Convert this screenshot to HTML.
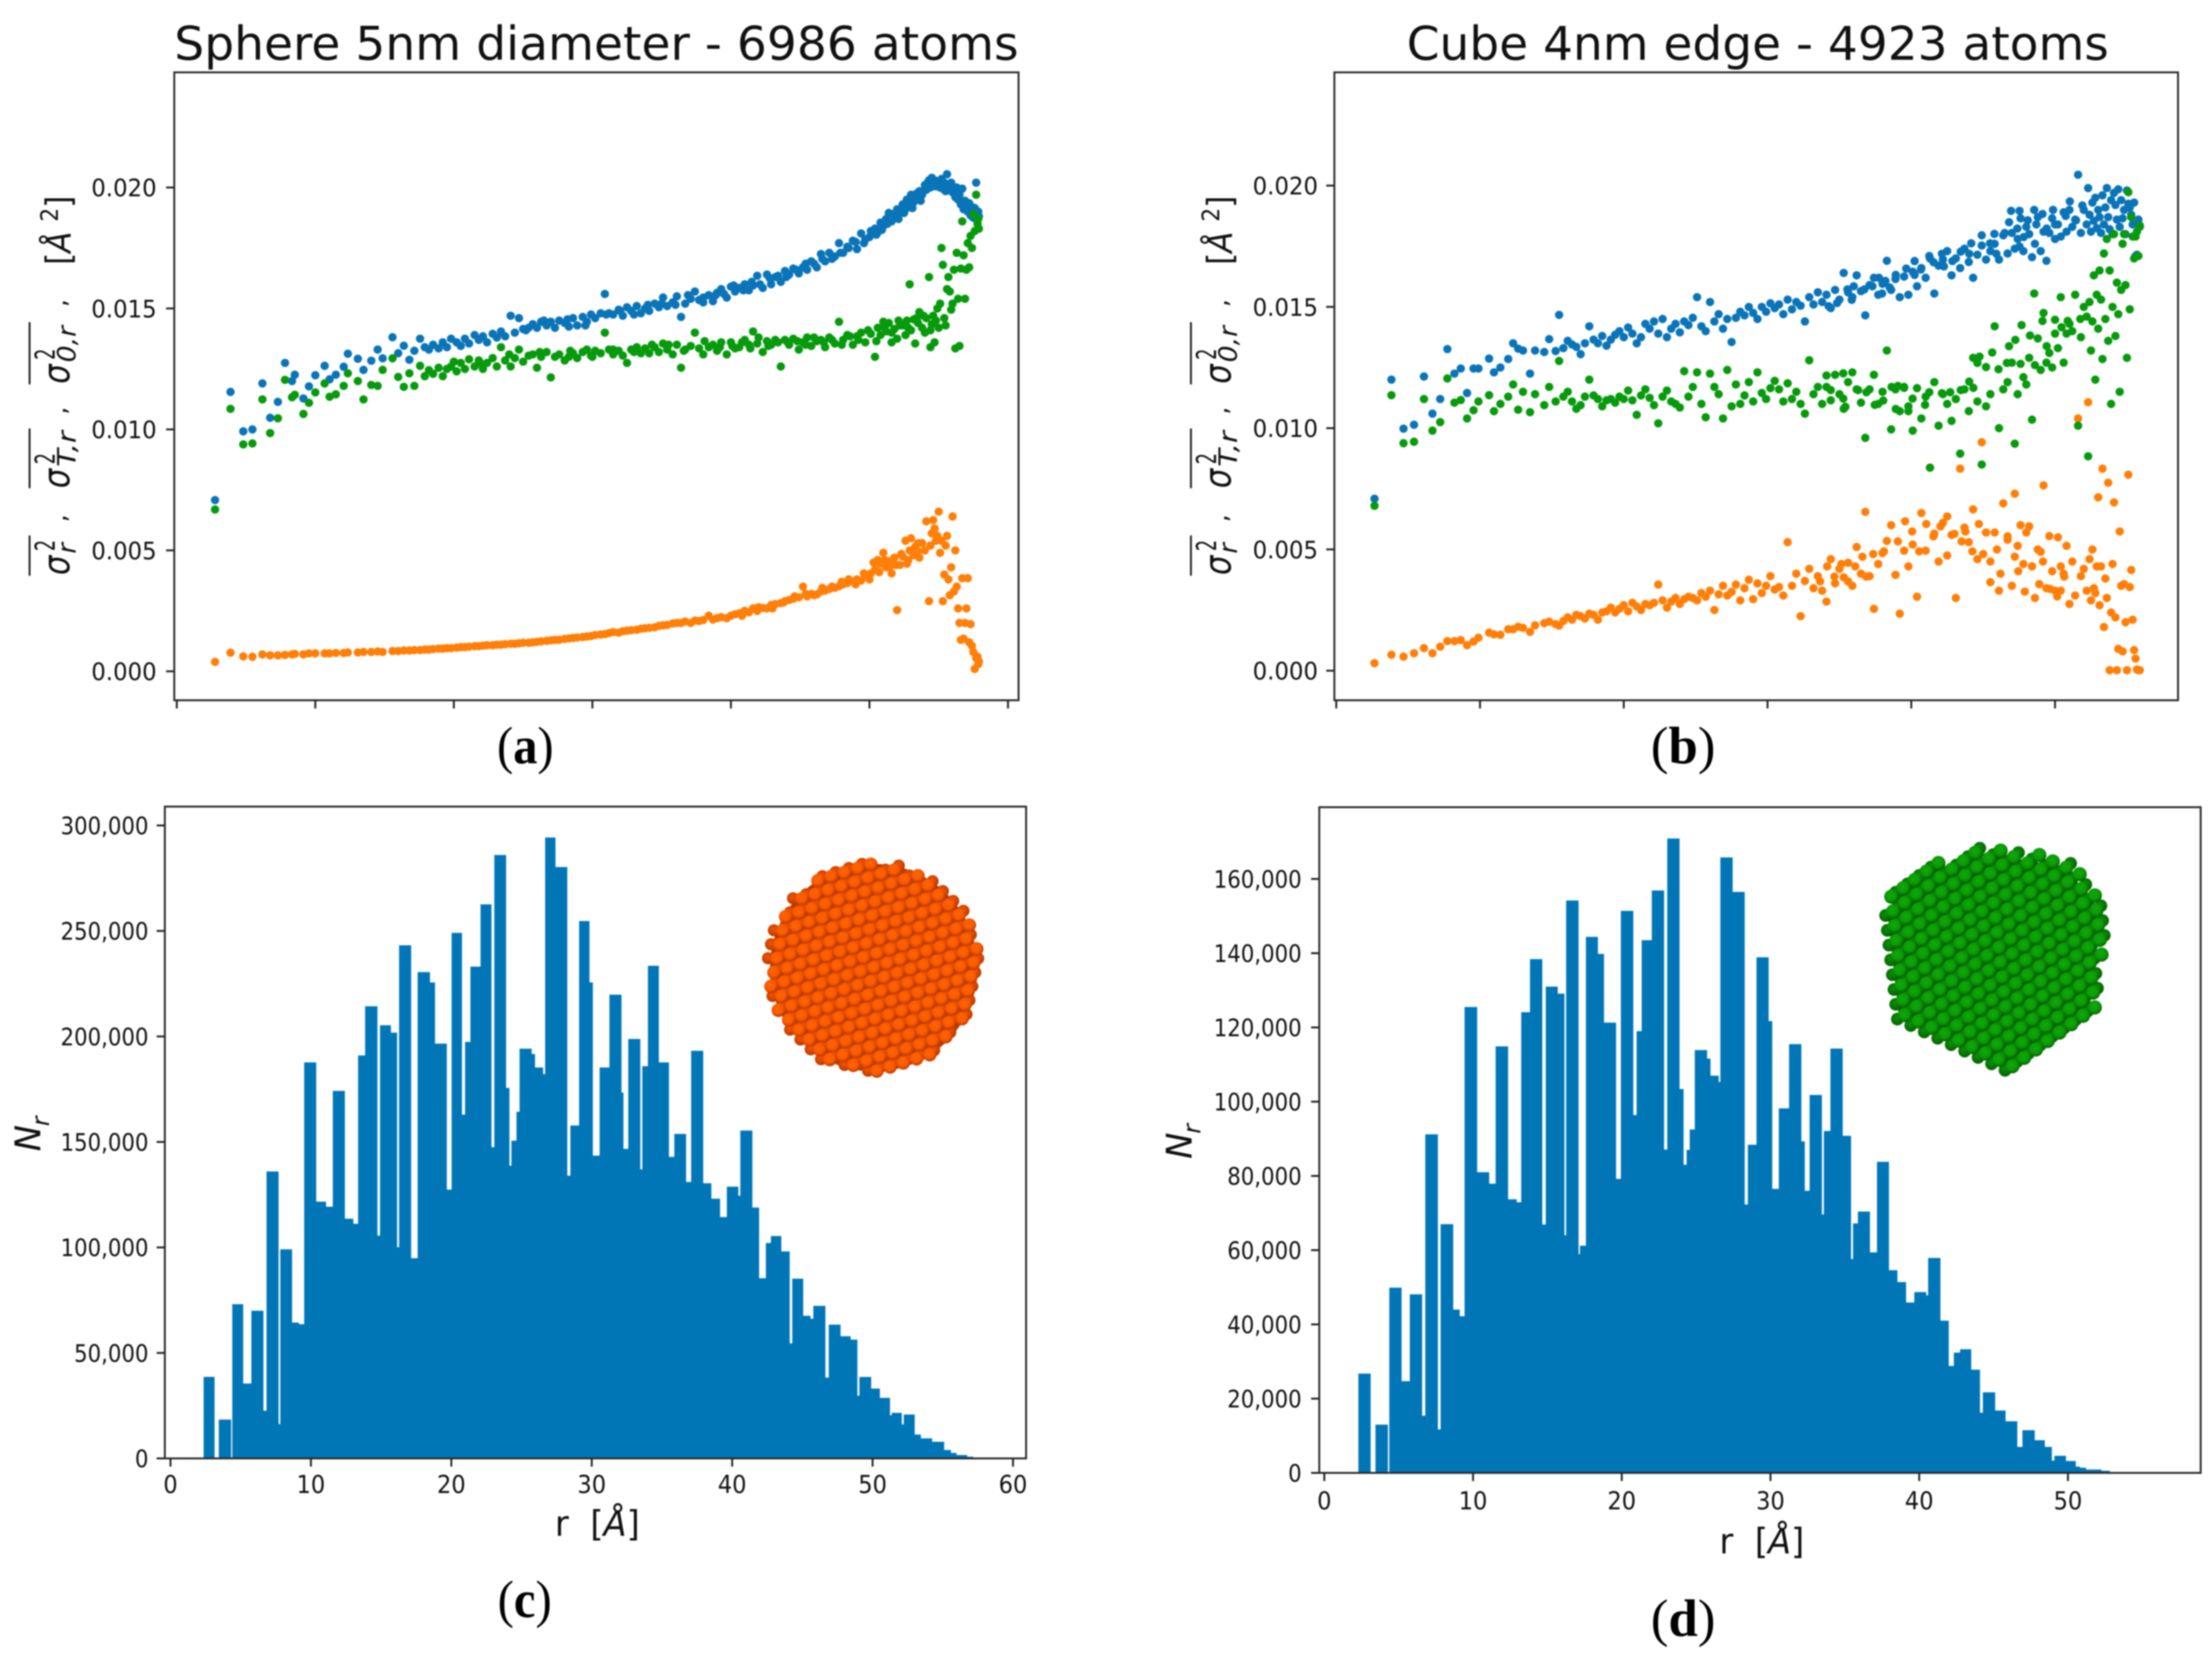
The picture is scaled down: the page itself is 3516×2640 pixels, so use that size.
<!DOCTYPE html>
<html lang="en">
<head>
<meta charset="utf-8">
<title>Atomic displacement variance and shell population</title>
<style>
html,body{margin:0;padding:0;background:#fff;width:3516px;height:2640px;overflow:hidden}
svg{display:block;filter:blur(1px)}
text{font-family:"DejaVu Sans","Liberation Sans",sans-serif;fill:#111}
.cap{font-family:"Liberation Serif",serif;font-size:84px;fill:#000}
.cap tspan{font-weight:bold}
.frame{fill:none;stroke:#2a2a2a;stroke-width:3}
</style>
</head>
<body>
<svg id="fig" xmlns="http://www.w3.org/2000/svg" width="3516" height="2640" viewBox="0 0 3516 2640">
<defs>
<radialGradient id="orangeAtom" cx="45%" cy="40%" r="60%"><stop offset="0" stop-color="#ff6606"/><stop offset=".62" stop-color="#fb5800"/><stop offset="1" stop-color="#b63a00"/></radialGradient>
<radialGradient id="orangeBack" cx="45%" cy="40%" r="60%"><stop offset="0" stop-color="#f55300"/><stop offset="1" stop-color="#b83c00"/></radialGradient>
<radialGradient id="greenAtom" cx="45%" cy="40%" r="60%"><stop offset="0" stop-color="#10aa0a"/><stop offset=".62" stop-color="#0b9a06"/><stop offset="1" stop-color="#056203"/></radialGradient>
<radialGradient id="greenBack" cx="45%" cy="40%" r="60%"><stop offset="0" stop-color="#0a9006"/><stop offset="1" stop-color="#056203"/></radialGradient>
</defs>
<rect width="3516" height="2640" fill="#fff"/>

<g id="panelA">
<text x="277" y="95" font-size="74" textLength="1342" lengthAdjust="spacingAndGlyphs">Sphere 5nm diameter - 6986 atoms</text>
</g>
<g id="panelB">
<text x="2236" y="95" font-size="74" textLength="1116" lengthAdjust="spacingAndGlyphs">Cube 4nm edge - 4923 atoms</text>
</g>
<g id="panelC"></g>
<g id="panelD"></g>

<g id="ylabA">
<rect x="45.5" y="851" width="3" height="64" fill="#222"/><rect x="45.5" y="681" width="3" height="95" fill="#222"/><rect x="45.5" y="512" width="3" height="99" fill="#222"/>
<text transform="translate(110,914) rotate(-90)" font-size="60" font-style="italic" textLength="31" lengthAdjust="spacingAndGlyphs">σ</text>
<text transform="translate(87,876) rotate(-90)" font-size="44" textLength="18" lengthAdjust="spacingAndGlyphs">2</text>
<text transform="translate(120,880) rotate(-90)" font-size="40" font-style="italic" textLength="17" lengthAdjust="spacingAndGlyphs">r</text>
<text transform="translate(105,830) rotate(-90)" font-size="40">,</text>
<text transform="translate(110,776) rotate(-90)" font-size="60" font-style="italic" textLength="31" lengthAdjust="spacingAndGlyphs">σ</text>
<text transform="translate(87,738) rotate(-90)" font-size="44" textLength="18" lengthAdjust="spacingAndGlyphs">2</text>
<text transform="translate(120,742) rotate(-90)" font-size="40" font-style="italic" textLength="57" lengthAdjust="spacingAndGlyphs">T,r</text>
<text transform="translate(105,659) rotate(-90)" font-size="40">,</text>
<text transform="translate(110,610) rotate(-90)" font-size="60" font-style="italic" textLength="31" lengthAdjust="spacingAndGlyphs">σ</text>
<text transform="translate(87,572) rotate(-90)" font-size="44" textLength="18" lengthAdjust="spacingAndGlyphs">2</text>
<text transform="translate(120,576) rotate(-90)" font-size="40" font-style="italic" textLength="58" lengthAdjust="spacingAndGlyphs">0,r</text>
<text transform="translate(105,488) rotate(-90)" font-size="40">,</text>
<text transform="translate(112,421) rotate(-90)" font-size="54" textLength="110" lengthAdjust="spacingAndGlyphs">[<tspan font-style="italic">Å</tspan> <tspan dy="-20" font-size="38">2</tspan><tspan dy="20">]</tspan></text>
</g>
<g id="ylabB" transform="translate(1846,0)">
<rect x="45.5" y="851" width="3" height="64" fill="#222"/><rect x="45.5" y="681" width="3" height="95" fill="#222"/><rect x="45.5" y="512" width="3" height="99" fill="#222"/>
<text transform="translate(110,914) rotate(-90)" font-size="60" font-style="italic" textLength="31" lengthAdjust="spacingAndGlyphs">σ</text>
<text transform="translate(87,876) rotate(-90)" font-size="44" textLength="18" lengthAdjust="spacingAndGlyphs">2</text>
<text transform="translate(120,880) rotate(-90)" font-size="40" font-style="italic" textLength="17" lengthAdjust="spacingAndGlyphs">r</text>
<text transform="translate(105,830) rotate(-90)" font-size="40">,</text>
<text transform="translate(110,776) rotate(-90)" font-size="60" font-style="italic" textLength="31" lengthAdjust="spacingAndGlyphs">σ</text>
<text transform="translate(87,738) rotate(-90)" font-size="44" textLength="18" lengthAdjust="spacingAndGlyphs">2</text>
<text transform="translate(120,742) rotate(-90)" font-size="40" font-style="italic" textLength="57" lengthAdjust="spacingAndGlyphs">T,r</text>
<text transform="translate(105,659) rotate(-90)" font-size="40">,</text>
<text transform="translate(110,610) rotate(-90)" font-size="60" font-style="italic" textLength="31" lengthAdjust="spacingAndGlyphs">σ</text>
<text transform="translate(87,572) rotate(-90)" font-size="44" textLength="18" lengthAdjust="spacingAndGlyphs">2</text>
<text transform="translate(120,576) rotate(-90)" font-size="40" font-style="italic" textLength="58" lengthAdjust="spacingAndGlyphs">0,r</text>
<text transform="translate(105,488) rotate(-90)" font-size="40">,</text>
<text transform="translate(112,421) rotate(-90)" font-size="54" textLength="110" lengthAdjust="spacingAndGlyphs">[<tspan font-style="italic">Å</tspan> <tspan dy="-20" font-size="38">2</tspan><tspan dy="20">]</tspan></text>
</g>

<g>
<text transform="translate(64,1830) rotate(-90)" font-size="56" font-style="italic" textLength="42" lengthAdjust="spacingAndGlyphs">N</text>
<text transform="translate(78,1790) rotate(-90)" font-size="38" font-style="italic">r</text>
</g>
<g>
<text transform="translate(1894,1842) rotate(-90)" font-size="56" font-style="italic" textLength="42" lengthAdjust="spacingAndGlyphs">N</text>
<text transform="translate(1908,1802) rotate(-90)" font-size="38" font-style="italic">r</text>
</g>
<text x="882" y="2441" font-size="56" textLength="135" lengthAdjust="spacingAndGlyphs" xml:space="preserve">r  [<tspan font-style="italic">Å</tspan>]</text>
<text x="2733" y="2469" font-size="56" textLength="135" lengthAdjust="spacingAndGlyphs" xml:space="preserve">r  [<tspan font-style="italic">Å</tspan>]</text>

<text class="cap" x="790" y="1213" textLength="90" lengthAdjust="spacingAndGlyphs">(<tspan>a</tspan>)</text>
<text class="cap" x="2624" y="1213">(<tspan>b</tspan>)</text>
<text class="cap" x="791" y="2570" textLength="86" lengthAdjust="spacingAndGlyphs">(<tspan>c</tspan>)</text>
<text class="cap" x="2624" y="2600">(<tspan>d</tspan>)</text>

<g id="sphereInset">
<circle cx="1389" cy="1538" r="165" fill="#b93d00"/>
</g>
<g id="cubeInset">
<polygon points="3000,1448 3044,1392 3155,1356 3282,1378 3340,1448 3322,1596 3187,1696 3018,1614" fill="#056203"/>
</g>
</svg>

<script>
// ---------- panel (a): sphere, shell radius in angstrom, variances in 1e-3 A^2 ----------
const sphereR = [2.76,3.88,4.80,5.46,6.18,6.74,7.30,7.81,8.32,8.52,9.14,9.54,10.0,10.67,11.03,11.48,12.05,12.35,13.07,13.48,14.04,14.5,14.86,15.57,15.98,16.39,16.79,17.15,17.56,
17.9,18.2,18.5,18.9,19.2,19.5,19.8,20.2,20.5,20.8,
21.1,21.5,21.8,22.1,22.4,22.8,23.1,23.4,23.7,24.1,
24.4,24.7,25.0,25.4,25.7,26.0,26.3,26.7,27.0,27.3,
27.6,28.0,28.3,28.6,28.9,29.3,29.6,29.9,30.2,30.6,
30.9,31.2,31.5,31.9,32.2,32.5,32.8,33.2,33.5,33.8,
34.1,34.5,34.8,35.1,35.4,35.8,36.1,36.4,36.7,37.1,
37.4,37.7,38.0,38.4,38.7,39.0,39.3,39.7,40.0,40.3,
40.6,41.0,41.3,41.6,41.9,42.3,42.6,42.9,43.2,43.6,
43.9,44.2,44.5,44.9,45.2,45.5,45.8,46.2,46.5,46.8,
47.1,47.5,47.8,48.1,48.4,48.8,49.1,49.4,49.7,50.1,
50.4,50.6,50.8,51.0,51.2,51.4,51.6,51.8,52.0,52.2,
52.4,52.6,52.7,52.9,53.0,53.2,53.3,53.5,53.6,53.8,
54.0,54.1,54.3,54.4,54.5,54.6,54.7,54.8,54.9,55.0,
55.1,55.2,55.3,55.4,55.5,55.6,55.7,55.8,55.9,56.0,
56.1,56.2,56.3,56.4,56.5,56.6,56.7,56.8,56.9,57.0,
57.1,57.2,57.3,57.4,57.5,57.6,57.7,57.8,57.85,57.9];
const sphereBlue = [7.08,11.55,9.92,10.0,11.9,10.48,11.14,12.75,12.0,12.26,11.28,11.78,12.24,12.63,12.07,12.26,12.59,13.13,12.92,12.46,12.84,13.3,12.94,13.81,13.15,13.46,12.88,13.25,13.75,
13.4,13.3,13.5,13.35,13.6,13.4,13.75,13.6,13.45,13.75,
13.55,13.9,13.7,13.85,13.6,13.95,13.8,14.05,13.85,14.7,
14.0,14.6,14.15,14.2,14.35,14.2,14.45,14.3,14.45,14.2,
14.5,14.4,14.25,14.6,14.3,14.65,14.45,14.75,14.6,14.8,
15.6,14.8,14.75,14.95,14.7,15.05,14.9,15.1,14.8,15.0,
14.9,15.2,15.05,15.45,15.1,15.25,15.5,14.65,15.2,15.4,
15.7,15.35,15.45,15.55,15.3,15.65,15.8,15.45,15.9,15.7,
15.85,16.0,15.75,15.95,16.35,15.85,16.4,16.0,16.3,16.1,
16.55,16.4,16.65,16.45,16.7,16.6,16.95,16.7,17.25,16.95,
17.3,17.15,17.7,17.3,17.55,17.8,17.45,18.1,17.85,18.2,
18.3,18.15,18.55,18.4,18.7,18.95,18.6,18.85,19.1,19.0,
19.3,19.1,19.5,19.35,19.7,19.4,19.65,19.55,19.85,19.7,
20.1,19.9,20.3,20.0,20.4,20.15,20.3,20.05,20.25,20.1,
20.0,20.35,19.95,20.2,19.85,20.55,20.1,19.9,20.2,19.8,
19.9,19.6,20.0,19.5,19.7,19.3,19.95,19.1,19.45,19.2,
19.0,19.35,18.85,19.2,18.75,19.15,20.2,18.9,19.0,18.8];
const sphereOrange = [.39,.77,.62,.6,.7,.66,.66,.68,.7,.72,.7,.74,.74,.74,.74,.76,.76,.78,.78,.8,.8,.82,.8,.84,.84,.86,.86,.88,.88,
.9,.9,.92,.94,.94,.96,.96,.98,1.0,1.0,
1.02,1.04,1.04,1.06,1.08,1.08,1.1,1.1,1.12,1.14,
1.14,1.16,1.18,1.18,1.2,1.22,1.24,1.26,1.28,1.3,
1.3,1.34,1.36,1.38,1.4,1.42,1.44,1.46,1.5,1.52,
1.54,1.58,1.62,1.6,1.66,1.68,1.7,1.72,1.76,1.78,
1.8,1.82,1.88,1.9,1.92,1.98,2.0,2.0,2.06,2.0,
2.1,2.08,2.12,2.3,2.14,2.2,2.24,2.2,2.3,2.36,
2.4,2.5,2.44,2.6,2.5,2.62,2.6,2.74,2.78,2.82,
2.9,2.95,3.0,3.06,3.5,3.1,3.2,3.18,3.3,3.34,
3.4,3.45,3.52,3.6,3.65,3.72,3.8,3.75,3.95,4.05,
4.2,4.6,4.45,4.9,4.3,4.55,4.05,4.7,2.53,4.4,
4.75,5.4,4.45,5.0,5.5,4.8,5.15,5.3,4.7,5.3,
5.0,6.2,2.9,5.2,5.7,6.25,5.9,5.4,5.6,6.6,
4.9,5.4,2.9,4.0,5.2,5.6,3.8,3.15,4.3,6.4,
3.3,5.0,3.5,2.6,2.0,1.3,3.85,1.35,2.0,2.6,
3.85,1.2,1.95,1.05,.8,.1,.55,.6,.3,.4];
const sphereGreen = [6.69,10.85,9.38,9.42,11.24,9.85,10.46,12.05,11.33,11.43,10.64,11.1,11.53,11.9,11.35,11.45,11.8,12.32,12.0,11.24,11.84,11.8,12.46,12.94,12.17,11.76,12.32,11.8,12.63,
12.2,12.45,12.3,12.55,12.2,12.5,12.6,12.4,12.75,12.5,
12.9,12.6,12.85,12.5,12.75,12.95,12.6,13.4,12.85,12.6,
12.95,13.3,12.8,13.05,13.1,12.55,13.0,13.2,12.15,13.0,
13.1,12.85,13.0,13.15,12.95,13.2,13.3,13.05,13.25,13.15,
14.0,13.3,13.1,13.25,13.05,12.75,13.3,13.4,13.15,13.35,
13.15,13.4,13.2,13.55,13.3,13.1,13.5,12.55,13.3,13.45,
14.0,13.35,13.1,13.4,13.5,13.25,13.6,13.1,13.6,13.35,
13.4,13.7,13.5,14.05,13.55,13.2,13.65,13.5,13.7,12.6,
13.7,13.5,13.75,13.3,13.6,13.8,13.45,13.65,13.7,13.4,
13.8,13.55,14.45,13.7,13.9,13.5,13.85,14.0,13.6,13.95,
13.0,14.2,13.9,14.45,14.05,14.4,13.6,14.15,13.75,14.3,
14.3,13.9,14.5,16.0,14.1,14.55,13.55,14.4,14.85,14.2,
14.0,14.6,16.3,13.4,14.35,14.7,13.6,14.5,15.0,14.2,
15.2,17.5,16.8,14.6,14.3,15.8,16.3,15.7,14.95,15.2,
16.6,13.35,17.3,15.4,13.45,16.65,18.6,17.2,15.4,16.6,
17.7,16.7,18.0,17.5,18.9,18.2,19.7,18.5,18.7,18.3];

// additional dense-band shells in panel (a)
const sphereExtraBlueR = [25.2,26.5,28.2,29.5,31.0,32.0,33.0,34.0,35.0,36.0,36.9,38.0,38.9,39.5,40.2,40.9,41.5,42.1,42.8,43.4,44.0,44.7,45.4,46.0,46.6,47.3,47.9,48.5,49.0,49.6,50.0,50.5,50.9,51.3,51.7,52.1,52.5,52.8,53.1,53.4,53.7,54.2];
const sphereExtraBlue = [14.1,14.5,14.55,14.3,14.75,14.9,14.75,15.15,15.2,15.15,15.55,15.25,15.55,15.6,15.95,15.75,16.1,16.0,16.25,16.35,16.3,16.6,16.85,16.85,17.05,17.05,17.3,17.5,17.75,17.7,17.95,18.05,18.25,18.5,18.9,18.7,18.95,19.25,19.15,19.75,19.45,20.2];
const sphereExtraGreenR = [20.0,22.0,24.0,26.2,28.4,30.0,31.5,33.0,34.3,35.5,36.6,38.1,39.2,40.1,40.8,41.4,42.0,42.7,43.4,44.1,44.8,45.4,46.0,46.7,47.3,48.0,48.6,49.2,49.9,50.5,51.1,51.6,52.1,52.8,53.4,53.9,54.4];
const sphereExtraGreen = [12.8,12.7,13.1,13.2,13.25,13.0,13.3,13.2,13.5,13.5,13.25,13.65,13.4,13.45,13.6,13.35,13.8,13.45,13.6,13.6,13.65,13.5,13.8,13.6,13.7,13.5,13.85,13.7,14.1,13.65,14.2,14.0,14.5,14.2,14.6,14.7,14.1];
const sphereExtraOrangeR = [40.8,42.0,43.0,43.8,44.6,45.4,46.0,46.6,47.3,48.0,48.5,49.0,49.6,50.0,50.3,50.7,51.1,51.5,51.9,52.3,52.8,53.1,53.5];
const sphereExtraOrange = [2.3,2.65,2.6,2.85,3.1,3.2,3.15,3.45,3.5,3.7,3.8,3.6,4.05,3.8,4.5,4.1,4.6,4.35,4.4,4.85,4.6,5.0,4.95];

// ---------- panel (b): cube ----------
const cubeR = [2.66,3.84,4.68,5.41,6.10,6.69,7.23,7.73,8.22,8.66,9.1,9.55,9.89,10.63,10.97,11.42,11.96,12.3,12.65,12.99,13.48,13.83,14.47,14.81,15.26,15.5,
15.8,16.1,16.4,16.7,17.0,17.3,17.6,17.9,18.2,18.5,
18.8,19.1,19.4,19.7,20.0,20.3,20.6,20.9,21.2,21.5,
21.8,22.1,22.4,22.7,23.0,23.3,23.6,23.9,24.2,24.5,
24.8,25.1,25.4,25.7,26.0,26.3,26.6,26.9,27.2,27.5,
27.8,28.1,28.4,28.7,29.0,29.3,29.6,29.9,30.2,30.5,
30.8,31.1,31.4,31.7,32.0,32.3,32.6,32.9,33.2,33.5,
33.8,34.1,34.4,34.7,35.0,35.3,35.6,35.9,36.2,36.5,
36.8,37.1,37.4,37.7,38.0,38.3,38.6,38.9,39.2,39.5,
39.8,40.1,40.4,40.7,41.0,41.3,41.6,41.9,42.2,42.5,
42.8,43.1,43.4,43.7,44.0,44.3,44.6,44.9,45.2,45.5,
45.8,46.1,46.4,46.7,47.0,47.2,47.4,47.6,47.8,48.0,
48.2,48.4,48.6,48.8,49.0,49.2,49.4,49.6,49.8,50.0,
50.2,50.4,50.6,50.8,51.0,51.2,51.4,51.6,51.8,52.0,
52.2,52.3,52.4,52.5,52.6,52.7,52.8,52.9,53.0,53.1,
53.2,53.3,53.4,53.5,53.6,53.7,53.8,53.9,54.0,54.1,
54.2,54.3,54.4,54.5,54.6,54.7,54.8,54.9,55.0,55.1,
55.2,55.3,55.4,55.5,55.6,55.7,55.8,55.9];
const cubeBlue = [7.09,12.0,9.98,10.14,12.13,10.6,11.2,13.26,12.25,12.46,11.45,12.46,12.46,12.87,12.3,12.5,12.85,13.5,13.28,13.2,12.25,13.2,13.14,13.67,13.18,14.67,
13.3,13.6,13.45,13.35,13.05,13.5,14.2,13.65,13.5,13.8,
13.4,13.65,13.85,14.0,13.75,14.15,13.9,13.5,13.75,14.3,
14.1,14.4,13.9,14.5,13.75,14.1,14.3,13.95,14.4,14.25,
14.55,15.4,14.2,14.0,15.2,14.4,14.7,14.1,14.5,13.55,
14.55,14.8,14.65,15.0,14.75,14.5,15.0,14.8,15.15,14.95,
15.1,14.7,15.3,14.9,15.2,15.05,14.4,15.4,15.1,15.6,
15.2,15.5,14.95,15.7,15.3,16.4,15.6,15.4,16.3,15.65,
14.65,15.9,16.2,15.5,15.95,16.9,15.7,16.15,15.4,16.25,
15.5,16.45,15.85,16.6,16.2,17.0,15.55,16.7,16.95,17.3,
16.3,17.0,16.6,17.4,16.85,16.2,17.15,17.95,16.95,17.3,
17.6,16.95,17.95,17.2,18.05,17.4,17.8,18.65,17.3,18.3,
18.0,17.05,17.6,18.7,17.3,18.1,16.9,18.05,18.65,17.8,
18.4,17.9,18.9,18.1,19.0,18.3,18.6,20.45,18.05,19.0,
18.4,19.9,18.8,18.1,19.3,18.55,19.5,18.25,19.0,18.7,
18.05,19.6,18.4,19.1,19.9,18.7,18.2,19.4,18.0,19.7,
19.2,18.6,19.85,18.3,19.4,18.65,19.0,18.0,19.8,19.25,
19.1,18.8,18.4,19.3,17.1,17.15,18.6,18.3];
const cubeOrange = [.31,.66,.58,.72,.93,.72,.99,1.22,1.22,1.26,1.05,1.2,1.36,1.57,1.5,1.48,1.71,1.71,1.81,1.77,1.6,1.87,1.96,2.02,1.92,1.86,
2.05,2.2,2.1,2.3,2.25,2.15,2.35,2.3,2.1,2.4,
2.45,2.6,2.4,2.55,2.7,2.45,2.8,2.65,2.5,2.75,
2.7,2.8,3.55,2.9,2.6,2.85,3.0,2.75,2.95,3.05,
3.0,2.9,3.2,3.05,3.3,2.5,3.15,3.5,3.1,3.25,
3.55,2.9,3.4,3.75,2.95,3.6,3.2,3.5,3.9,3.35,
3.45,3.1,5.3,3.5,4.0,2.25,3.7,4.2,3.4,3.9,
3.3,2.85,4.6,3.6,4.2,3.85,4.45,3.5,5.1,4.0,
6.55,3.9,2.55,4.4,4.85,5.35,6.0,3.95,2.35,4.95,
4.3,5.2,3.05,6.5,4.95,8.37,5.65,4.5,6.1,4.75,
5.6,3.0,8.33,5.9,5.3,6.65,4.6,9.42,5.7,3.65,
5.7,3.3,6.9,5.4,3.5,7.3,5.15,6.0,4.4,5.7,
5.95,4.3,3.0,5.0,4.9,7.64,3.4,5.55,4.1,3.3,
5.5,3.3,4.0,5.15,2.75,4.5,3.1,10.4,3.9,4.2,
3.3,11.07,4.6,2.9,5.0,3.4,3.2,4.3,7.15,2.7,
4.3,8.33,1.8,3.8,3.0,7.75,.02,2.4,4.4,6.94,
2.2,.02,.9,5.74,3.5,.8,3.57,2.0,.02,8.08,
3.45,4.15,2.1,.85,.5,.05,.02,.02];
const cubeGreen = [6.8,11.36,9.38,9.44,11.2,9.9,10.25,12.05,11.05,11.16,10.4,10.74,11.1,11.36,10.7,11.0,11.3,11.8,10.76,11.5,10.66,11.4,10.95,11.7,11.1,12.77,
11.3,11.5,11.1,10.8,10.95,11.3,12.0,11.35,11.2,10.9,
11.15,11.2,11.05,11.3,11.2,11.55,11.15,10.55,11.35,11.6,
11.25,10.95,10.2,11.3,11.55,11.1,11.0,10.85,12.35,11.3,
11.7,12.3,11.0,10.45,12.25,11.7,11.4,10.4,12.4,10.9,
11.8,11.0,11.35,11.9,11.1,12.3,11.45,11.2,11.65,11.95,
11.6,11.1,11.85,11.2,11.5,11.0,10.6,12.8,11.4,11.7,
11.0,11.7,11.15,12.2,11.4,10.8,11.9,12.3,11.6,11.05,
9.6,11.6,12.2,11.0,11.5,13.2,9.95,11.6,10.7,11.7,
10.9,9.9,11.65,10.4,11.3,8.37,11.9,10.1,11.4,11.0,
10.3,11.2,8.95,11.6,10.7,12.9,11.1,8.5,10.9,11.4,
14.2,10.0,11.6,11.9,12.7,9.36,11.4,12.65,12.1,11.8,
12.9,10.35,12.6,13.7,12.4,14.75,12.7,13.1,12.5,13.9,
13.3,15.4,12.7,13.9,14.3,14.0,15.5,10.1,13.75,15.0,
14.6,8.84,15.2,13.2,14.4,16.3,12.0,15.5,14.1,16.5,
15.3,12.85,17.2,14.5,17.8,13.6,16.5,11.0,15.0,18.0,
13.8,16.0,14.7,11.5,15.7,17.6,18.0,15.9,12.9,19.73,
14.9,18.7,17.9,17.0,17.9,18.1,17.1,18.35];

// additional dense-band shells in panel (b)
const cubeExtraBlueR = [34.25,34.84,35.86,35.56,36.0,36.73,37.3,37.75,38.2,38.5,37.97,38.92,39.65,40.23,40.23,40.67,41.25,41.55,42.13,42.27,42.86,43.44,44.03,44.17,44.9,45.48,45.78,45.92,46.5,46.8,47.38,47.82,47.53,46.94,47.53,48.1,48.55,48.7,49.13,49.42,49.86,50.0,50.74,51.46,51.03,51.9];
const cubeExtraBlue = [15.03,15.16,15.29,15.72,15.85,15.72,15.85,16.2,16.07,15.8,15.55,16.32,16.58,16.89,16.32,16.54,17.1,16.84,17.19,16.67,16.89,17.28,17.19,17.62,17.53,17.62,18.01,17.19,18.05,18.49,18.23,17.88,17.49,18.96,18.96,18.57,19.0,18.4,18.83,18.23,19.0,18.4,18.75,18.57,19.35,19.18];
const cubeExtraGreenR = [34.1,34.4,35.27,35.42,35.27,36.3,36.88,37.46,38.05,38.63,39.07,38.92,39.5,40.09,39.8,40.96,41.25,42.13,42.71,43.44,44.03,44.32,44.75,44.6,45.2,45.63,46.07,46.65,46.8,47.24,47.67,48.26,48.55,49.13,50.0,50.45,49.42,50.88,51.76];
const cubeExtraGreen = [12.17,11.57,11.22,10.88,12.26,11.57,11.48,10.96,11.14,11.7,11.74,10.79,11.66,11.22,10.7,10.96,11.48,11.44,11.48,11.57,11.92,11.66,12.95,12.69,12.52,13.12,12.43,12.69,13.38,13.64,14.25,13.82,15.55,14.42,14.47,14.16,13.38,14.42,14.5];
const cubeExtraOrangeR = [33.66,34.15,34.65,35.14,35.6,36.1,36.6,36.86,37.35,38.1,39.07,39.57,40.06,40.55,41.04,41.54,42.03,42.5,43.0,43.5,43.76,44.25,44.7,45.0,45.5,45.96,46.2,46.7,47.2,47.44,47.9,48.4,48.9,49.16,49.66,50.15,50.4,50.64];
const cubeExtraOrange = [3.68,4.3,3.88,4.4,3.68,4.3,4.7,3.88,4.81,4.92,5.33,6.16,5.74,4.92,6.05,5.54,5.95,6.36,5.64,5.33,5.74,4.92,6.05,4.81,4.5,5.0,4.0,5.54,4.7,4.1,3.26,4.3,3.57,4.5,3.37,3.06,4.3,3.88];

// ---------- panel (c): histogram of sphere ----------
const sphereEdges = [2.36,3.12,3.44,4.3,4.4,5.16,5.76,6.6,6.84,7.68,7.82,8.64,9.12,9.52,10.36,11.06,11.56,12.4,13.0,13.36,13.86,14.72,14.92,15.68,16.12,16.28,17.12,17.6,18.46,18.82,19.66,20.02,20.74,20.98,21.36,22.08,22.84,23.06,23.88,24.12,24.28,24.64,24.86,25.7,25.94,26.52,26.68,27.4,28.24,28.48,29.1,29.82,30.06,30.56,31.26,32.1,32.24,32.6,33.44,33.6,34.0,34.76,35.48,35.88,36.7,37.08,37.92,38.5,39.12,39.62,40.42,40.58,41.42,41.9,42.4,42.76,43.48,44.08,44.28,45.04,45.56,45.78,46.62,46.88,47.7,48.42,48.9,49.06,49.88,50.5,51.22,51.36,52.06,52.22,52.98,53.42,54.22,55.08,55.56,55.96,56.72,57.16];
const sphereCounts = [38650,0,18400,0,73100,35500,70000,22600,136000,16250,99100,64400,63600,187700,121700,119300,174200,113600,111200,191000,214300,105600,205300,201800,100100,243200,94900,230500,225600,196600,127400,249100,162900,197400,233100,262600,147500,286000,175600,138700,150600,164300,194200,191700,185300,182100,294300,280300,134000,157800,254700,225600,143500,185300,219800,173400,146700,198800,137000,185900,233500,187700,142900,153800,131000,193200,130400,123100,114400,128800,124500,155400,118900,85400,102100,105400,98100,54500,85200,67600,66200,72300,38300,63400,57900,56300,29700,38600,33100,28700,20400,21600,16100,20800,11300,9500,7900,4000,2600,1600,800];

// ---------- panel (d): histogram of cube ----------
const cubeEdges = [2.29,3.10,3.44,4.26,4.37,5.18,5.75,6.56,6.79,7.62,7.82,8.65,9.09,9.43,10.26,11.07,11.52,12.34,12.92,13.24,13.83,14.64,14.89,15.68,16.13,16.26,17.08,17.19,17.59,18.38,18.79,19.6,19.94,20.76,21.0,21.34,22.02,22.83,23.06,23.87,24.14,24.36,24.57,24.91,25.72,25.95,26.5,26.63,27.44,28.25,28.48,29.06,29.86,30.1,30.56,31.25,32.06,32.29,32.63,33.44,33.59,34.03,34.84,35.4,35.55,35.88,36.67,37.16,37.95,38.52,39.1,39.67,40.46,40.6,41.41,41.97,42.33,42.75,43.48,44.07,44.28,45.09,45.79,46.58,46.94,47.75,48.43,48.9,49.09,49.85,50.51,50.79,51.2,52.24,52.8,55];
const cubeCounts = [26750,0,13000,0,49900,24700,48100,15400,91200,11700,67000,44000,42200,125500,81000,77900,114900,73700,72900,124100,138400,66900,131000,129100,64000,154200,58900,61200,144400,139800,121300,79200,151400,96400,119000,143500,156900,87100,170900,103400,83000,87000,92500,113900,111600,107000,105300,165800,156500,72300,88400,138900,121700,76500,98200,115500,89300,76000,101800,69600,92100,114300,90800,57600,67200,70400,59400,83800,54600,51400,45900,48700,47800,57900,41000,28800,32400,33300,27800,16200,21700,16800,13900,7000,11500,8800,7000,3300,4600,3200,1700,1400,900,570,200];

// ---------- tick arrays ----------
const varianceTicks = [0,5,10,15,20];
const varianceTickLabels = ['0.000','0.005','0.010','0.015','0.020'];
const radiusTicksTop = [0,10,20,30,40,50,60];
const radiusTicksC = [0,10,20,30,40,50,60];
const radiusTicksD = [0,10,20,30,40,50];
const countTicksC = [0,50000,100000,150000,200000,250000,300000];
const countTicksD = [0,20000,40000,60000,80000,100000,120000,140000,160000];

const NS = 'http://www.w3.org/2000/svg';
const COLORS = {blue:'#0a74b8', orange:'#ff7f08', green:'#079a0c', bar:'#0076b7'};

// axis functions
const xA = r => 281 + 22.02 * r;
const yA = v => 1067 - 38.45 * v;
const xB = r => 2124 + 22.85 * r;
const yB = v => 1066 - 38.55 * v;
const xC = r => 271 + 22.32 * r;
const yC = n => 2318 - n * 1006 / 300000;
const xD = r => 2105 + 23.64 * r;
const yD = n => 2341 - n * 944 / 160000;

function drawScatter(parent, rs, vals, color, xf, yf) {
  const g = document.createElementNS(NS, 'g');
  
  
  g.setAttribute('fill', color);
  const n = Math.min(rs.length, vals.length);
  for (let i = 0; i < n; i++) {
    const c = document.createElementNS(NS, 'circle');
    
    
    c.setAttribute('cx', xf(rs[i]).toFixed(1));
    c.setAttribute('cy', yf(vals[i]).toFixed(1));
    c.setAttribute('r', '6.6');
    g.appendChild(c);
  }
  parent.appendChild(g);
}

function drawHist(parent, edges, counts, xf, yf) {
  for (let i = 0; i < counts.length; i++) {
    if (!counts[i]) continue;
    const b = document.createElementNS(NS, 'rect');
    
    
    b.setAttribute('x', xf(edges[i]));
    b.setAttribute('width', xf(edges[i + 1]) - xf(edges[i]) + 0.4);
    b.setAttribute('y', yf(counts[i]));
    b.setAttribute('height', yf(0) - yf(counts[i]));
    b.setAttribute('fill', COLORS.bar);
    parent.appendChild(b);
  }
}

function drawFrame(parent, x0, y0, x1, y1) {
  const f = document.createElementNS(NS, 'rect');
  
  
  f.setAttribute('class', 'frame');
  f.setAttribute('x', x0);
  f.setAttribute('y', y0);
  f.setAttribute('width', x1 - x0);
  f.setAttribute('height', y1 - y0);
  parent.appendChild(f);
}

// natural DejaVu advance: digits .636em, separators .318em
function labelLength(s, fs, squeeze) {
  let w = 0;
  for (const ch of s) w += (ch === ',' || ch === '.') ? 0.318 : 0.636;
  return (w * fs * squeeze).toFixed(1);
}

function drawXTicks(parent, ticks, xf, yAxis, showLabels, labelBaseline) {
  ticks.forEach(t => {
    const l = document.createElementNS(NS, 'rect');
    
    
    l.setAttribute('x', xf(t) - 1.5);
    l.setAttribute('y', yAxis);
    l.setAttribute('width', 3);
    l.setAttribute('height', 13);
    l.setAttribute('fill', '#222');
    parent.appendChild(l);
    if (showLabels) {
      const tx = document.createElementNS(NS, 'text');
      
      
      tx.setAttribute('x', xf(t));
      tx.setAttribute('y', labelBaseline);
      tx.setAttribute('text-anchor', 'middle');
      tx.setAttribute('font-size', '39');
      tx.setAttribute('textLength', labelLength(String(t), 39, 0.92));
      tx.setAttribute('lengthAdjust', 'spacingAndGlyphs');
      tx.textContent = String(t);
      parent.appendChild(tx);
    }
  });
}

function drawYTicks(parent, ticks, labels, yf, xAxis, labelRight, fontSize, squeeze) {
  ticks.forEach((t, i) => {
    const l = document.createElementNS(NS, 'rect');
    
    
    l.setAttribute('x', xAxis - 13);
    l.setAttribute('y', yf(t) - 1.5);
    l.setAttribute('width', 13);
    l.setAttribute('height', 3);
    l.setAttribute('fill', '#222');
    parent.appendChild(l);
    const tx = document.createElementNS(NS, 'text');
    
    
    tx.setAttribute('x', labelRight);
    tx.setAttribute('y', yf(t) + 14);
    tx.setAttribute('text-anchor', 'end');
    tx.setAttribute('font-size', fontSize);
    tx.setAttribute('textLength', labelLength(labels[i], fontSize, squeeze));
    tx.setAttribute('lengthAdjust', 'spacingAndGlyphs');
    tx.textContent = labels[i];
    parent.appendChild(tx);
  });
}

const commaLabel = n => n === 0 ? '0' : n.toLocaleString('en-US');

// panel a
const pA = document.getElementById('panelA');
drawScatter(pA, sphereR, sphereBlue, COLORS.blue, xA, yA);
drawScatter(pA, sphereExtraBlueR, sphereExtraBlue, COLORS.blue, xA, yA);
drawScatter(pA, sphereR, sphereOrange, COLORS.orange, xA, yA);
drawScatter(pA, sphereExtraOrangeR, sphereExtraOrange, COLORS.orange, xA, yA);
drawScatter(pA, sphereR, sphereGreen, COLORS.green, xA, yA);
drawScatter(pA, sphereExtraGreenR, sphereExtraGreen, COLORS.green, xA, yA);
drawFrame(pA, 277, 115, 1619, 1113);
drawXTicks(pA, radiusTicksTop, xA, 1113, false, 0);
drawYTicks(pA, varianceTicks, varianceTickLabels, yA, 277, 249, 38, 0.955);

// panel b
const pB = document.getElementById('panelB');
drawScatter(pB, cubeR, cubeBlue, COLORS.blue, xB, yB);
drawScatter(pB, cubeExtraBlueR, cubeExtraBlue, COLORS.blue, xB, yB);
drawScatter(pB, cubeR, cubeOrange, COLORS.orange, xB, yB);
drawScatter(pB, cubeExtraOrangeR, cubeExtraOrange, COLORS.orange, xB, yB);
drawScatter(pB, cubeR, cubeGreen, COLORS.green, xB, yB);
drawScatter(pB, cubeExtraGreenR, cubeExtraGreen, COLORS.green, xB, yB);
drawFrame(pB, 2121, 115, 3462, 1113);
drawXTicks(pB, radiusTicksTop.slice(0, 6), xB, 1113, false, 0);
drawYTicks(pB, varianceTicks, varianceTickLabels, yB, 2121, 2095, 38, 0.955);

// panel c
const pC = document.getElementById('panelC');
drawHist(pC, sphereEdges, sphereCounts, xC, yC);
drawFrame(pC, 262, 1282, 1631, 2318);
drawXTicks(pC, radiusTicksC, xC, 2318, true, 2373);
drawYTicks(pC, countTicksC, countTicksC.map(commaLabel), yC, 262, 236, 38, 0.89);

// panel d
const pD = document.getElementById('panelD');
drawHist(pD, cubeEdges, cubeCounts, xD, yD);
drawFrame(pD, 2097, 1283, 3498, 2341);
drawXTicks(pD, radiusTicksD, xD, 2341, true, 2399);
drawYTicks(pD, countTicksD, countTicksD.map(commaLabel), yD, 2097, 2069, 38, 0.89);

// ---------- nanoparticle illustrations (decorative, not chart data) ----------
function addAtom(parent, x, y, r, fill) {
  const a = document.createElementNS(NS, 'circle');
  
  
  a.setAttribute('cx', x.toFixed(1));
  a.setAttribute('cy', y.toFixed(1));
  a.setAttribute('r', r);
  a.setAttribute('fill', fill);
  parent.appendChild(a);
}
function lattice(parent, cx, cy, spacing, angle, inside, fill, backFill, dx, dy) {
  const ca = Math.cos(angle), sa = Math.sin(angle);
  [[dx, dy, spacing * 0.44, backFill], [0, 0, spacing * 0.49, fill]].forEach(layer => {
    for (let j = -16; j <= 16; j++) {
      for (let i = -16; i <= 16; i++) {
        const u = spacing * (i + j / 2), v = spacing * j * 0.9;
        const x = cx + u * ca - v * sa + layer[0];
        const y = cy + u * sa + v * ca + layer[1];
        if (inside(x, y)) addAtom(parent, x, y, layer[2], layer[3]);
      }
    }
  });
}
lattice(document.getElementById('sphereInset'), 1389, 1538, 22, -0.3,
  (x, y) => Math.hypot(x - 1389, y - 1538) < 170,
  'url(#orangeAtom)', 'url(#orangeBack)', 7, -7);

const cubeHull = [[2990,1444],[3038,1384],[3153,1344],[3290,1366],[3352,1445],[3332,1603],[3187,1708],[3008,1620]];
function inHull(x, y) {
  let c = false;
  for (let i = 0, j = cubeHull.length - 1; i < cubeHull.length; j = i++) {
    const a = cubeHull[i], b = cubeHull[j];
    if ((a[1] > y) !== (b[1] > y) && x < (b[0] - a[0]) * (y - a[1]) / (b[1] - a[1]) + a[0]) c = !c;
  }
  return c;
}
lattice(document.getElementById('cubeInset'), 3180, 1530, 23, -0.62, inHull,
  'url(#greenAtom)', 'url(#greenBack)', 7, -7);
</script>
</body>
</html>
